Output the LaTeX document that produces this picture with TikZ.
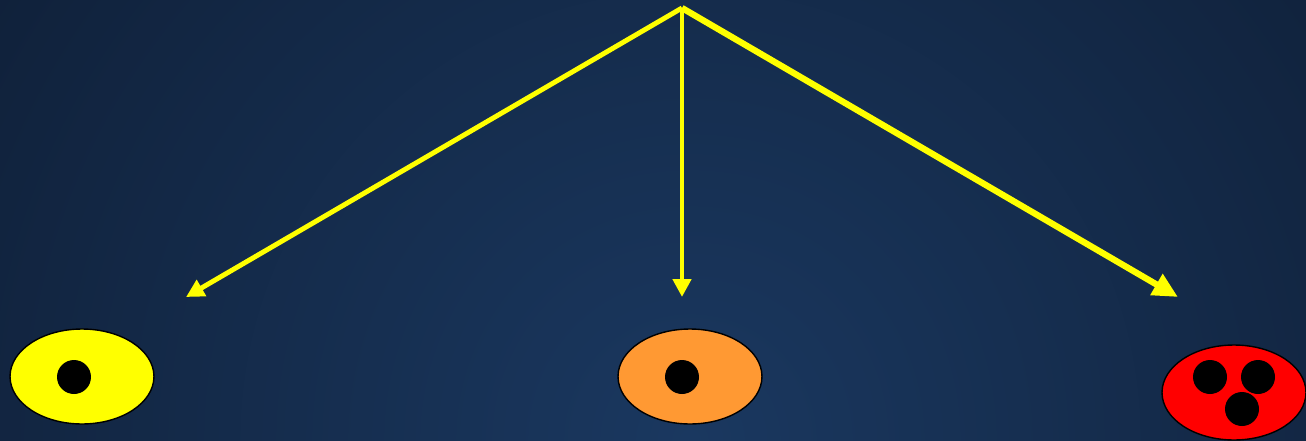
\documentclass[tikz,border=0pt]{standalone}
\usepackage{xcolor}
\usetikzlibrary{arrows.meta,shapes.geometric}

\definecolor{navyin}{HTML}{1A3860}
\definecolor{navyout}{HTML}{0F1F37}
\definecolor{cellyellow}{HTML}{FFFF00}
\definecolor{cellorange}{HTML}{FF9933}
\definecolor{cellred}{HTML}{FF0000}

\begin{document}
\begin{tikzpicture}[
    x=0.02cm, y=-0.02cm,
    cell/.style={draw=black, line width=0.8pt, ellipse, inner sep=0pt, minimum width=2.88cm, minimum height=1.9cm},
    dot/.style={circle, fill=black, inner sep=0pt, minimum size=0.68cm},
    arr/.style={-{Triangle[length=0.36cm, width=0.36cm]}, cellyellow, line width=2.8pt},
]
\useasboundingbox (0,0) rectangle (1306,440);
\begin{scope}
\clip (0,0) rectangle (1306,440);
\shade[inner color=navyin, outer color=navyout] (690,440) circle (900);
\end{scope}
\node[cell, fill=cellyellow] (cellA) at (82,376.5) {};
\node[cell, fill=cellorange] (cellB) at (690,376.5) {};
\node[cell, fill=cellred] (cellC) at (1234,392.5) {};
\node[dot] (nucA) at (74,377) {};
\node[dot] (nucB) at (682,377) {};
\node[dot] (nucC1) at (1210,377) {};
\node[dot] (nucC2) at (1258,377) {};
\node[dot] (nucC3) at (1242,409) {};
\coordinate (apex) at (682,8);
\coordinate (tipA) at (186,297);
\coordinate (tipB) at (682,297);
\coordinate (tipC) at (1178,297);
\draw[arr] (apex) -- (tipA);
\draw[arr] (apex) -- (tipB);
\draw[arr, line width=3.6pt, -{Triangle[length=0.5cm, width=0.46cm]}] (apex) -- (tipC);
\end{tikzpicture}
\end{document}
